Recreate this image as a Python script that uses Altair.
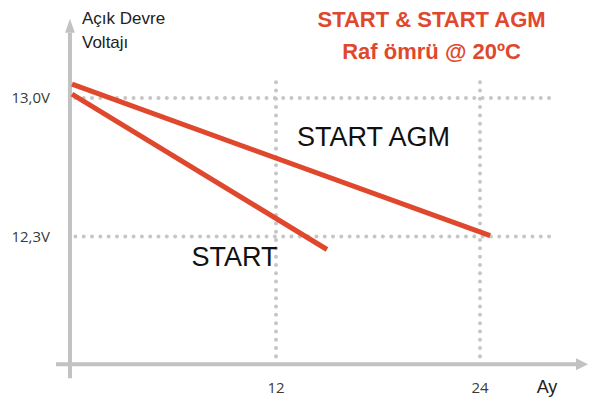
import altair as alt
import pandas as pd

# ---- data ----
start_months = [0, 15.0]
start_volts = [13.02, 12.235]
agm_months = [0, 24.6]
agm_volts = [13.07, 12.305]

x_ticks = [12, 24]
x_tick_labels = ["12", "24"]
y_ticks = [13.0, 12.3]
y_tick_labels = ["13,0V", "12,3V"]

series_names = ["START", "START AGM"]
title_lines = ["START & START AGM", "Raf ömrü @ 20ºC"]
y_title_lines = ["Açık Devre", "Voltajı"]
x_title = "Ay"

RED = "#E0482E"
GRAY = "#C2C2C2"
DOT = "#C6C6C6"
FONT = "Liberation Sans"

# ---- scales ----
xs = alt.Scale(domain=[-3.7647, 30.4118], nice=False, zero=False)
ys = alt.Scale(domain=[11.51, 13.455], nice=False, zero=False)
X = lambda f="x": alt.X(f, type="quantitative", scale=xs, axis=None)
Y = lambda f="y": alt.Y(f, type="quantitative", scale=ys, axis=None)

lines_df = pd.DataFrame(
    [{"s": series_names[0], "x": m, "y": v} for m, v in zip(start_months, start_volts)]
    + [{"s": series_names[1], "x": m, "y": v} for m, v in zip(agm_months, agm_volts)]
)

hgrid = pd.DataFrame({"y": y_ticks, "x": [0.2] * 2, "x2": [28.4] * 2})
vgrid = pd.DataFrame({"x": x_ticks, "y": [11.695] * 2, "y2": [13.095] * 2})

dotted = dict(strokeDash=[0.01, 8.3], strokeCap="round", strokeWidth=4, color=DOT)

hg = alt.Chart(hgrid).mark_rule(**dotted).encode(x=X(), x2="x2", y=Y())
vg = alt.Chart(vgrid).mark_rule(**dotted).encode(x=X(), y=Y(), y2="y2")

yaxis = alt.Chart(pd.DataFrame({"x": [-0.12], "y": [11.585], "y2": [13.33]})).mark_rule(
    color=GRAY, strokeWidth=4
).encode(x=X(), y=Y(), y2="y2")
xaxis = alt.Chart(pd.DataFrame({"y": [11.655], "x": [-0.94], "x2": [29.8]})).mark_rule(
    color=GRAY, strokeWidth=4
).encode(x=X(), x2="x2", y=Y())

up_arrow = alt.Chart(pd.DataFrame({"x": [-0.12], "y": [13.365]})).mark_point(
    shape="M-0.7,1L0,-1L0.7,1Z", size=196, filled=True, color=GRAY, opacity=1, strokeWidth=0
).encode(x=X(), y=Y())
right_arrow = alt.Chart(pd.DataFrame({"x": [30.0], "y": [11.655]})).mark_point(
    shape="M-1,-1L1,0L-1,1Z", size=144, filled=True, color=GRAY, opacity=1, strokeWidth=0
).encode(x=X(), y=Y())

lines = alt.Chart(lines_df).mark_line(color=RED, strokeWidth=5, strokeCap="butt").encode(
    x=X(), y=Y(), detail="s:N"
)

ytl = alt.Chart(pd.DataFrame({"t": y_tick_labels, "y": y_ticks, "x": [-1.294] * 2})).mark_text(
    align="right", baseline="middle", font="Open Sans", fontSize=15, color="#3A3A3A"
).encode(x=X(), y=Y(), text="t:N")

xtl = alt.Chart(pd.DataFrame({"t": x_tick_labels, "x": x_ticks, "y": [11.535] * 2})).mark_text(
    align="center", baseline="middle", font="Open Sans", fontSize=15, color="#3A3A3A"
).encode(x=X(), y=Y(), text="t:N")

xt = alt.Chart(pd.DataFrame({"t": [x_title], "x": [27.94], "y": [11.535]})).mark_text(
    align="center", baseline="middle", font=FONT, fontSize=18, color="#222222"
).encode(x=X(), y=Y(), text="t:N")

yt = alt.Chart(pd.DataFrame({"t": y_title_lines, "x": [0.588] * 2, "y": [13.375, 13.252]})).mark_text(
    align="left", baseline="alphabetic", font=FONT, fontSize=17, color="#222222"
).encode(x=X(), y=Y(), text="t:N")

title = alt.Chart(pd.DataFrame({"t": title_lines, "x": [21.15] * 2, "y": [13.36, 13.195]})).mark_text(
    align="center", baseline="alphabetic", font=FONT, fontSize=22, fontWeight="bold", color=RED
).encode(x=X(), y=Y(), text="t:N")

series_lbl = alt.Chart(pd.DataFrame({"t": series_names[::-1], "x": [17.735, 9.56], "y": [12.76, 12.15]})).mark_text(
    align="center", baseline="alphabetic", font=FONT, fontSize=27, color="#111111"
).encode(x=X(), y=Y(), text="t:N")

chart = alt.layer(
    hg, vg, yaxis, xaxis, up_arrow, right_arrow, lines, ytl, xtl, xt, yt, title, series_lbl
).properties(
    width=581, height=389,
    autosize=alt.AutoSizeParams(type="fit", contains="padding"),
    padding=0,
    background="white",
).configure_view(stroke=None)

chart.save("out.html", embed_options={"renderer": "svg", "actions": False})
